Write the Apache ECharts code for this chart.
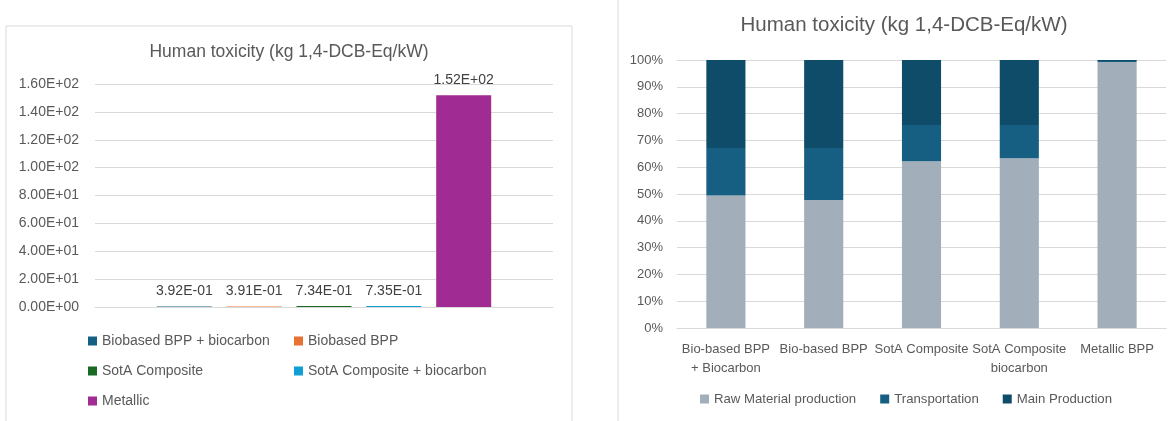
<!DOCTYPE html>
<html>
<head>
<meta charset="utf-8">
<script src="https://cdn.jsdelivr.net/npm/echarts@6/dist/echarts.min.js"></script>
<style>
  html, body { margin: 0; padding: 0; background: #fff; }
  #chart { width: 1174px; height: 421px; }
</style>
</head>
<body>
<div id="chart"></div>
<script>
// left chart: one value per material
var leftNames = ['Biobased BPP + biocarbon', 'Biobased BPP', 'SotA Composite', 'SotA Composite + biocarbon', 'Metallic'];
var leftValues = [0.392, 0.391, 0.734, 0.735, 152];
var leftColors = ['#156082', '#E97132', '#196B24', '#0F9ED5', '#A02B93'];

// right chart: share of each stage, in %
var rightCats = ['Bio-based BPP\n+ Biocarbon', 'Bio-based BPP', 'SotA Composite', 'SotA Composite\nbiocarbon', 'Metallic BPP'];
var rawMaterial = [49.4, 47.8, 62.2, 63.3, 99.3];
var transportation = [17.8, 19.4, 13.5, 12.4, 0.3];
var mainProduction = [32.8, 32.8, 24.3, 24.3, 0.4];

var FONT = '"Liberation Sans", Arial, sans-serif';
var GREY = '#595959';

function sci(v) {
  if (v === 0) return '0.00E+00';
  var e = Math.floor(Math.log10(Math.abs(v)));
  var m = v / Math.pow(10, e);
  if (m.toFixed(2) === '10.00') { m = m / 10; e++; }
  var ex = String(Math.abs(e));
  if (ex.length < 2) ex = '0' + ex;
  return m.toFixed(2) + 'E' + (e < 0 ? '-' : '+') + ex;
}

var chart = echarts.init(document.getElementById('chart'));

var leftSeries = [];
for (var i = 0; i < leftNames.length; i++) {
  leftSeries.push({
    name: leftNames[i],
    type: 'bar',
    xAxisIndex: 0,
    yAxisIndex: 0,
    barWidth: 55,
    barGap: '27%',
    itemStyle: { color: leftColors[i] },
    label: {
      show: true, position: 'top', distance: 8,
      color: '#404040', fontSize: 14, fontFamily: FONT,
      formatter: function (p) { return sci(p.value); }
    },
    data: [leftValues[i]]
  });
}

// legend positions of the left chart (two columns)
var legPos = [[88, 333], [294, 333], [88, 363], [294, 363], [88, 393]];
var legends = [];
for (var j = 0; j < leftNames.length; j++) {
  legends.push({
    data: [leftNames[j]],
    left: legPos[j][0], top: legPos[j][1],
    icon: 'rect', itemWidth: 9, itemHeight: 9, itemGap: 0,
    padding: 0,
    textStyle: { color: GREY, fontSize: 14, fontFamily: FONT, lineHeight: 16 }
  });
}
legends.push({
  data: ['Raw Material production', 'Transportation', 'Main Production'],
  left: 700, top: 391, padding: 0,
  icon: 'rect', itemWidth: 9, itemHeight: 9, itemGap: 24,
  textStyle: { color: GREY, fontSize: 13.2, fontFamily: FONT, lineHeight: 16 }
});

var option = {
  backgroundColor: '#fff',
  animation: false,
  graphic: [
    { type: 'rect', shape: { x: 6, y: 26, width: 566, height: 420 },
      style: { fill: 'none', stroke: '#D9D9D9', lineWidth: 1 } },
    { type: 'line', shape: { x1: 618, y1: 0, x2: 618, y2: 421 },
      style: { stroke: '#D9D9D9', lineWidth: 1 } },
    { type: 'text', x: 289, y: 52,
      style: { text: 'Human toxicity (kg 1,4-DCB-Eq/kW)', fill: GREY, font: '17.5px ' + FONT,
               textAlign: 'center', textVerticalAlign: 'middle' } },
    { type: 'text', x: 904, y: 25,
      style: { text: 'Human toxicity (kg 1,4-DCB-Eq/kW)', fill: GREY, font: '20.5px ' + FONT,
               textAlign: 'center', textVerticalAlign: 'middle' } }
  ],
  legend: legends,
  grid: [
    { left: 95, right: 621, top: 84, bottom: 114 },
    { left: 677, right: 8, top: 60, bottom: 93 }
  ],
  xAxis: [
    { type: 'category', gridIndex: 0, data: [''],
      axisLine: { lineStyle: { color: '#D9D9D9' } },
      axisTick: { show: false }, axisLabel: { show: false } },
    { type: 'category', gridIndex: 1, data: rightCats,
      axisLine: { lineStyle: { color: '#D9D9D9' } },
      axisTick: { show: false },
      axisLabel: { interval: 0, color: GREY, fontSize: 13, fontFamily: FONT, lineHeight: 19, margin: 12 } }
  ],
  yAxis: [
    { type: 'value', gridIndex: 0, min: 0, max: 160, interval: 20,
      axisLine: { show: false }, axisTick: { show: false },
      splitLine: { lineStyle: { color: '#D9D9D9' } },
      axisLabel: { color: GREY, fontSize: 14, fontFamily: FONT, margin: 16,
                   formatter: function (v) { return sci(v); } } },
    { type: 'value', gridIndex: 1, min: 0, max: 100, interval: 10,
      axisLine: { show: false }, axisTick: { show: false },
      splitLine: { lineStyle: { color: '#D9D9D9' } },
      axisLabel: { color: GREY, fontSize: 13, fontFamily: FONT, margin: 14, formatter: '{value}%' } }
  ],
  series: leftSeries.concat([
    { name: 'Raw Material production', type: 'bar', stack: 'r', xAxisIndex: 1, yAxisIndex: 1,
      barWidth: '40%', itemStyle: { color: '#A2AEBA' }, data: rawMaterial },
    { name: 'Transportation', type: 'bar', stack: 'r', xAxisIndex: 1, yAxisIndex: 1,
      barWidth: '40%', itemStyle: { color: '#165F82' }, data: transportation },
    { name: 'Main Production', type: 'bar', stack: 'r', xAxisIndex: 1, yAxisIndex: 1,
      barWidth: '40%', itemStyle: { color: '#0F4C69' }, data: mainProduction }
  ])
};

chart.setOption(option);
</script>
</body>
</html>
